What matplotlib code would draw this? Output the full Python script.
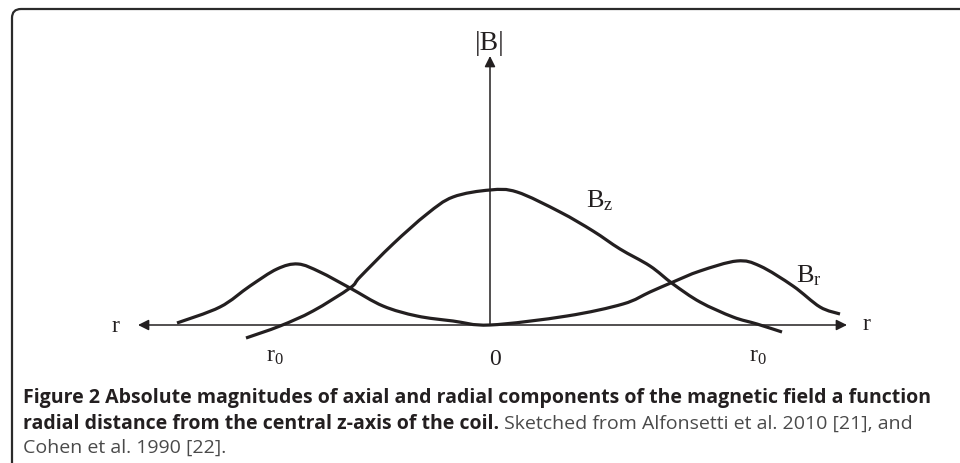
import numpy as np
import matplotlib
matplotlib.use("Agg")
import matplotlib.pyplot as plt
from matplotlib.patches import FancyBboxPatch, PathPatch
from matplotlib.path import Path
from matplotlib.transforms import IdentityTransform

plt.rcParams["font.family"] = ["Liberation Serif", "DejaVu Serif"]
plt.rcParams["mathtext.fontset"] = "custom"
plt.rcParams["mathtext.rm"] = "Liberation Serif"

# sketch values (r and |B| in arbitrary units, origin at r=0)
bz_r = [-2.44, -2.10, -1.77, -1.40, -1.30, -0.97, -0.63, -0.37, 0.0,
        0.27, 0.70, 1.03, 1.30, 1.60, 1.83, 2.10, 2.43, 2.67, 2.92]
bz_val = [-0.13, -0.01, 0.14, 0.37, 0.48, 0.81, 1.11, 1.28, 1.35,
          1.33, 1.13, 0.94, 0.76, 0.59, 0.41, 0.23, 0.08, 0.01, -0.07]

br_r = [-3.13, -2.70, -2.40, -2.13, -1.92, -1.70, -1.40, -1.07, -0.73, -0.37, 0.0,
        0.77, 1.33, 1.60, 1.83, 2.10, 2.47, 2.70, 3.03, 3.30, 3.50]
br_val = [0.02, 0.18, 0.39, 0.56, 0.61, 0.53, 0.37, 0.19, 0.09, 0.04, 0.0,
          0.09, 0.21, 0.33, 0.43, 0.54, 0.64, 0.59, 0.39, 0.18, 0.11]

r_end_left = -3.52
r_end_right = 3.57
b_end_top = 2.69

caption_bold_1 = ("Figure 2 Absolute magnitudes of axial and radial components "
                  "of the magnetic field a function")
caption_bold_2 = "radial distance from the central z-axis of the coil."
caption_reg_2 = " Sketched from Alfonsetti et al. 2010 [21], and"
caption_reg_3 = "Cohen et al. 1990 [22]."


def smooth_path(xs, ys):
    # catmull-rom through the points, written as cubic bezier segments
    p = np.column_stack([xs, ys]).astype(float)
    p = np.vstack([p[0], p, p[-1]])
    verts = [p[1]]
    codes = [Path.MOVETO]
    for i in range(1, len(p) - 2):
        c1 = p[i] + (p[i + 1] - p[i - 1]) / 6
        c2 = p[i + 1] - (p[i + 2] - p[i]) / 6
        verts += [c1, c2, p[i + 1]]
        codes += [Path.CURVE4] * 3
    return Path(verts, codes)


fig = plt.figure(figsize=(9.6, 4.64), dpi=100)
ax = fig.add_axes([0, 0, 1, 1])
ax.set_xlim(-4.90, 4.70)
ax.set_ylim(-1.38, 3.26)
ax.axis("off")

ink = "#231f20"

# axes with arrows
arrow = dict(arrowstyle="-|>", color=ink, lw=1.1, mutation_scale=16,
             shrinkA=0, shrinkB=0)
ax.annotate("", xy=(0, b_end_top), xytext=(0, 0), arrowprops=arrow)
ax.annotate("", xy=(r_end_left, 0), xytext=(0, 0), arrowprops=arrow)
ax.annotate("", xy=(r_end_right, 0), xytext=(0, 0), arrowprops=arrow)

# curves
for xs, ys in [(bz_r, bz_val), (br_r, br_val)]:
    ax.add_patch(PathPatch(smooth_path(xs, ys), fill=False, ec=ink, lw=2.3,
                           joinstyle="round", capstyle="butt"))

# labels
ax.text(0, 2.76, "|B|", fontsize=20, ha="center", va="baseline", color=ink)
ax.text(-3.75, -0.06, "r", fontsize=17, ha="center", va="baseline", color=ink)
ax.text(3.76, -0.04, "r", fontsize=17, ha="center", va="baseline", color=ink)
ax.text(0.05, -0.39, "0", fontsize=17, ha="center", va="baseline", color=ink)
ax.text(-2.15, -0.36, r"$\mathregular{r_0}$", fontsize=17, ha="center",
        va="baseline", color=ink)
ax.text(2.68, -0.36, r"$\mathregular{r_0}$", fontsize=17, ha="center",
        va="baseline", color=ink)
ax.text(0.96, 1.19, r"$\mathregular{B_z}$", fontsize=19, ha="left",
        va="baseline", color=ink)
ax.text(3.06, 0.44, r"$\mathregular{B_r}$", fontsize=19, ha="left",
        va="baseline", color=ink)

# frame: only left and top edges visible, rounded top-left corner
frame = FancyBboxPatch((12, -60), 1100, 454 + 60, transform=IdentityTransform(),
                       boxstyle="round,pad=0,rounding_size=9",
                       fill=False, ec="#2b2b2b", lw=1.6, clip_on=False)
fig.add_artist(frame)

# caption
cap_font = ["Open Sans", "DejaVu Sans"]
cap_size = 14.0
fig.text(23, 464 - 403, caption_bold_1, transform=IdentityTransform(),
         family=cap_font, weight="bold", fontsize=cap_size, color=ink,
         va="baseline")
t2 = fig.text(23, 464 - 429, caption_bold_2, transform=IdentityTransform(),
              family=cap_font, weight="bold", fontsize=cap_size, color=ink,
              va="baseline")
fig.canvas.draw()
renderer = fig.canvas.get_renderer()
w2 = t2.get_window_extent(renderer)
fig.text(w2.x1, 464 - 429, caption_reg_2, transform=IdentityTransform(),
         family=cap_font, fontsize=cap_size, color="#4a4a4a", va="baseline")
fig.text(23, 464 - 453, caption_reg_3, transform=IdentityTransform(),
         family=cap_font, fontsize=cap_size, color="#4a4a4a", va="baseline")

fig.savefig("out.png", dpi=100, facecolor="white")
